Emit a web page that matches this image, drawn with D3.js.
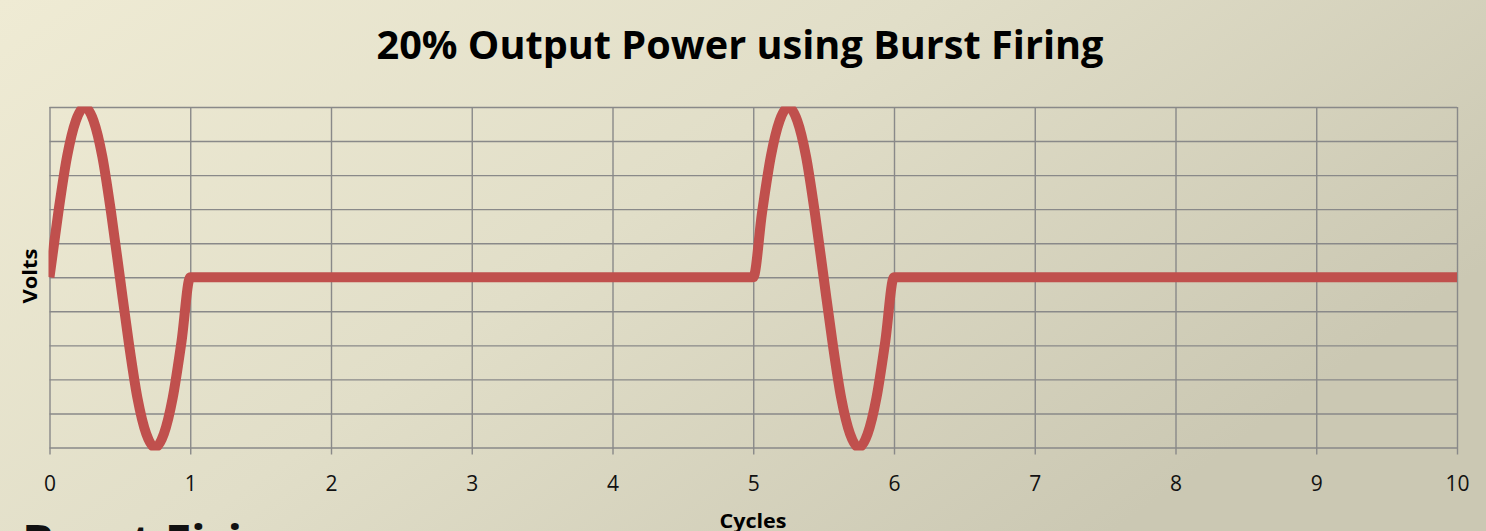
<!DOCTYPE html>
<html>
<head>
<meta charset="utf-8">
<script src="https://cdn.jsdelivr.net/npm/d3@7"></script>
<style>
  html, body { margin: 0; padding: 0; overflow: hidden; }
  svg { display: block; }
</style>
</head>
<body>
<script>
var width  = 1486;
var height = 531;

// values
var title      = "20% Output Power using Burst Firing";
var xLabel     = "Cycles";
var yLabel     = "Volts";
var xTicks     = [0, 1, 2, 3, 4, 5, 6, 7, 8, 9, 10];
var yGrid      = [-1, -0.8, -0.6, -0.4, -0.2, 0, 0.2, 0.4, 0.6, 0.8, 1];
var cycles     = [0, 0.0625, 0.125, 0.1875, 0.25, 0.3125, 0.375, 0.4375, 0.5,
                  0.5625, 0.625, 0.6875, 0.75, 0.8125, 0.875, 0.9375, 1,
                  5, 5.0625, 5.125, 5.1875, 5.25, 5.3125, 5.375, 5.4375, 5.5,
                  5.5625, 5.625, 5.6875, 5.75, 5.8125, 5.875, 5.9375, 6,
                  10];
var volts      = [0, 0.38, 0.71, 0.92, 1, 0.92, 0.71, 0.38, 0,
                  -0.38, -0.71, -0.92, -1, -0.92, -0.71, -0.38, 0,
                  0, 0.38, 0.71, 0.92, 1, 0.92, 0.71, 0.38, 0,
                  -0.38, -0.71, -0.92, -1, -0.92, -0.71, -0.38, 0,
                  0];

// plot area ("top" is taken by window.top, so prefix these)
var plotLeft = 49.5, plotRight = 1457, plotTop = 107, plotBottom = 447.5;

var x = d3.scaleLinear().domain([0, 10]).range([plotLeft, plotRight]);
var y = d3.scaleLinear().domain([-1, 1]).range([plotBottom, plotTop]);

var svg = d3.select("body").append("svg")
    .attr("width", width)
    .attr("height", height);

var defs = svg.append("defs");
var grad = defs.append("linearGradient")
    .attr("id", "bg")
    .attr("x1", 0).attr("y1", 0)
    .attr("x2", 1).attr("y2", 0.5);
grad.append("stop").attr("offset", "0%").attr("stop-color", "#efebd4");
grad.append("stop").attr("offset", "50%").attr("stop-color", "#e1dec8");
grad.append("stop").attr("offset", "100%").attr("stop-color", "#cbc8b3");

defs.append("clipPath").attr("id", "plot")
    .append("rect")
    .attr("x", plotLeft - 1).attr("y", plotTop - 0.5)
    .attr("width", plotRight - plotLeft + 5).attr("height", plotBottom - plotTop + 3.5);

svg.append("rect")
    .attr("width", width).attr("height", height)
    .attr("fill", "url(#bg)");

// horizontal grid
svg.append("g")
    .attr("class", "y-grid")
    .attr("transform", "translate(" + plotLeft + ",0)")
    .call(d3.axisLeft(y).tickValues(yGrid).tickSize(-(plotRight - plotLeft)).tickFormat(""))
    .call(function (g) { g.select(".domain").remove(); })
    .selectAll("line")
    .attr("stroke", "#898989")
    .attr("stroke-width", 1.4);

// vertical grid, running on past the bottom edge as tick marks
svg.append("g")
    .attr("class", "x-grid")
    .attr("transform", "translate(0," + plotTop + ")")
    .call(d3.axisBottom(x).tickValues(xTicks).tickSize(plotBottom - plotTop + 7).tickFormat(""))
    .call(function (g) { g.select(".domain").remove(); })
    .selectAll("line")
    .attr("stroke", "#898989")
    .attr("stroke-width", 1.4);

// tick labels
var xAxis = svg.append("g")
    .attr("transform", "translate(0," + plotBottom + ")")
    .call(d3.axisBottom(x).tickValues(xTicks).tickSize(0).tickPadding(0).tickFormat(d3.format("d")));
xAxis.select(".domain").remove();
xAxis.selectAll("text")
    .attr("y", 43.5)
    .attr("dy", null)
    .attr("fill", "#111")
    .style("font-family", "'Open Sans', sans-serif")
    .style("font-size", "21px");

// the waveform
var line = d3.line()
    .x(function (d, i) { return x(cycles[i]); })
    .y(function (d) { return y(d); })
    .curve(d3.curveMonotoneX);

svg.append("path")
    .datum(volts)
    .attr("clip-path", "url(#plot)")
    .attr("d", line)
    .attr("fill", "none")
    .attr("stroke", "#c0504d")
    .attr("stroke-width", 10)
    .attr("stroke-linejoin", "round");

// title
svg.append("text")
    .attr("x", 740)
    .attr("y", 59)
    .attr("text-anchor", "middle")
    .attr("textLength", 727)
    .attr("lengthAdjust", "spacingAndGlyphs")
    .style("font-family", "'Open Sans', sans-serif")
    .style("font-weight", "bold")
    .style("font-size", "39px")
    .attr("fill", "#000")
    .text(title);

// axis titles
svg.append("text")
    .attr("transform", "translate(37,276) rotate(-90)")
    .attr("text-anchor", "middle")
    .attr("textLength", 55)
    .attr("lengthAdjust", "spacingAndGlyphs")
    .style("font-family", "'Open Sans', sans-serif")
    .style("font-weight", "bold")
    .style("font-size", "19px")
    .attr("fill", "#000")
    .text(yLabel);

svg.append("text")
    .attr("x", 753)
    .attr("y", 528)
    .attr("text-anchor", "middle")
    .attr("textLength", 67)
    .attr("lengthAdjust", "spacingAndGlyphs")
    .style("font-family", "'Open Sans', sans-serif")
    .style("font-weight", "bold")
    .style("font-size", "19px")
    .attr("fill", "#000")
    .text(xLabel);

// slide heading peeking in under the chart
svg.append("text")
    .attr("x", 22)
    .attr("y", 560)
    .style("font-family", "'Open Sans', sans-serif")
    .style("font-weight", "bold")
    .style("font-size", "48px")
    .attr("fill", "#111")
    .text("Burst Firing");
</script>
</body>
</html>
